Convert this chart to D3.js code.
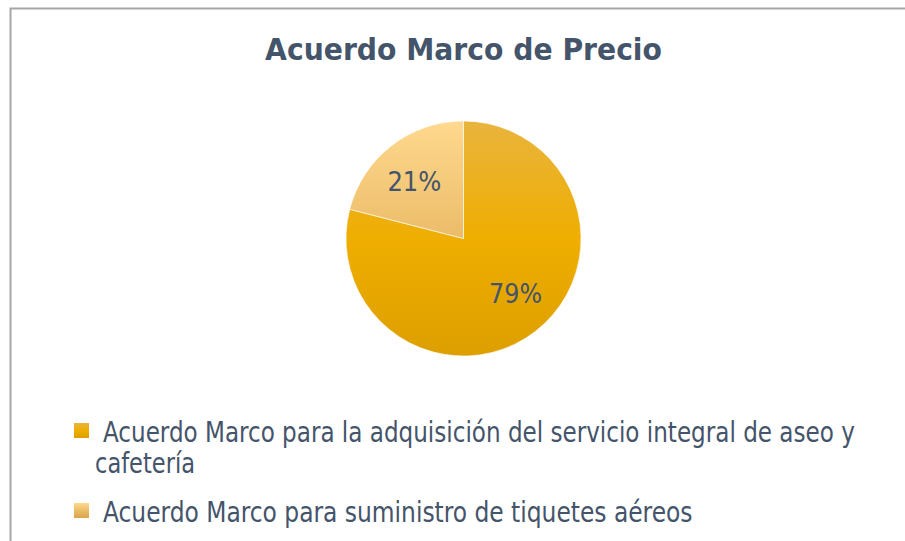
<!DOCTYPE html>
<html>
<head>
<meta charset="utf-8">
<script src="https://cdn.jsdelivr.net/npm/d3@7"></script>
<style>
  html, body { margin: 0; padding: 0; background: #fff; }
  svg { display: block; }
  .txt { font-family: Tahoma, "DejaVu Sans Condensed", "DejaVu Sans", Verdana, sans-serif; fill: #44546a; }
</style>
</head>
<body>
<svg id="chart" width="905" height="541"></svg>
<script>
const title = "Acuerdo Marco de Precio";
const categories = [
    "Acuerdo Marco para la adquisición del servicio integral de aseo y cafetería",
    "Acuerdo Marco para suministro de tiquetes aéreos",
];
const values = [79, 21];
const legendLines = [
    ["Acuerdo Marco para la adquisición del servicio integral de aseo y", "cafetería"],
    ["Acuerdo Marco para suministro de tiquetes aéreos"],
];

const W = 905, H = 541;
const cx = 463.5, cy = 238.5, r = 117.5;

const svg = d3.select("#chart");
const defs = svg.append("defs");

// vertical gradients, like the office fill
const grads = [
    ["#e9b43e", "#efae00", "#dd9f00"],
    ["#ffd98f", "#ebbc68", "#d9a44c"],
];
function addGrad(id, stops, box) {
    const g = defs.append("linearGradient")
        .attr("id", id)
        .attr("x1", 0).attr("x2", 0);
    if (box) {
        g.attr("gradientUnits", "userSpaceOnUse").attr("y1", -r).attr("y2", r);
    } else {
        g.attr("y1", 0).attr("y2", 1);
    }
    stops.forEach((c, i) => g.append("stop").attr("offset", i / (stops.length - 1)).attr("stop-color", c));
}
grads.forEach((s, i) => {
    addGrad("pie" + i, s, true);
    addGrad("key" + i, s, false);
});

// frame (only left and top edges show in the crop)
svg.append("path")
    .attr("d", `M10.5,${H + 5} L10.5,8.5 L${W + 5},8.5`)
    .attr("fill", "none")
    .attr("stroke", "#a6a6a6")
    .attr("stroke-width", 2);

// stretch / squeeze a text node so it spans the wanted width
function fitText(g, target) {
    const t = g.select("text");
    const w = t.node().getComputedTextLength();
    g.attr("transform", g.attr("data-tr") + ` scale(${target / w},1)`);
}

function addText(x, y, str, size, weight, anchor, target) {
    const g = svg.append("g")
        .attr("data-tr", `translate(${x},${y})`)
        .attr("transform", `translate(${x},${y})`);
    g.append("text")
        .attr("class", "txt")
        .attr("font-size", size)
        .attr("font-weight", weight)
        .attr("text-anchor", anchor)
        .text(str);
    if (target) fitText(g, target);
    return g;
}

// title
addText(463.5, 60, title, 30, "bold", "middle", 397);

// pie
const pie = d3.pie().sort(null).value((d) => d);
const arcs = pie(values);
const arc = d3.arc().innerRadius(0).outerRadius(r);
const labelArc = d3.arc().innerRadius(r * 0.64).outerRadius(r * 0.64);

const pg = svg.append("g").attr("transform", `translate(${cx},${cy})`);
pg.selectAll("path.slice")
    .data(arcs)
    .join("path")
    .attr("class", "slice")
    .attr("d", arc)
    .attr("fill", (d, i) => `url(#pie${i})`)
    .attr("stroke", "rgba(255,255,255,0.6)")
    .attr("stroke-width", 1);

const fmt = (v) => Math.round(v / d3.sum(values) * 100) + "%";
const labelW = [53, 54];
const labelNudge = [[6, -4], [-3, 2]];
arcs.forEach((d, i) => {
    const [lx, ly] = labelArc.centroid(d);
    addText(cx + lx + labelNudge[i][0], cy + ly + 9.5 + labelNudge[i][1],
        fmt(d.value), 26, "normal", "middle", labelW[i]);
});

// legend
const legendY = [423, 503];
const lineW = [[752, 100], [590]];
categories.forEach((c, i) => {
    svg.append("rect")
        .attr("x", 74).attr("y", legendY[i])
        .attr("width", 15).attr("height", 15)
        .attr("fill", `url(#key${i})`);
    legendLines[i].forEach((line, j) => {
        const x = j === 0 ? 103 : 95;
        const g = addText(x, legendY[i] + 19 + j * 31, line, 29, "normal", "start", null);
        fitText(g, lineW[i][j]);
    });
});
</script>
</body>
</html>
